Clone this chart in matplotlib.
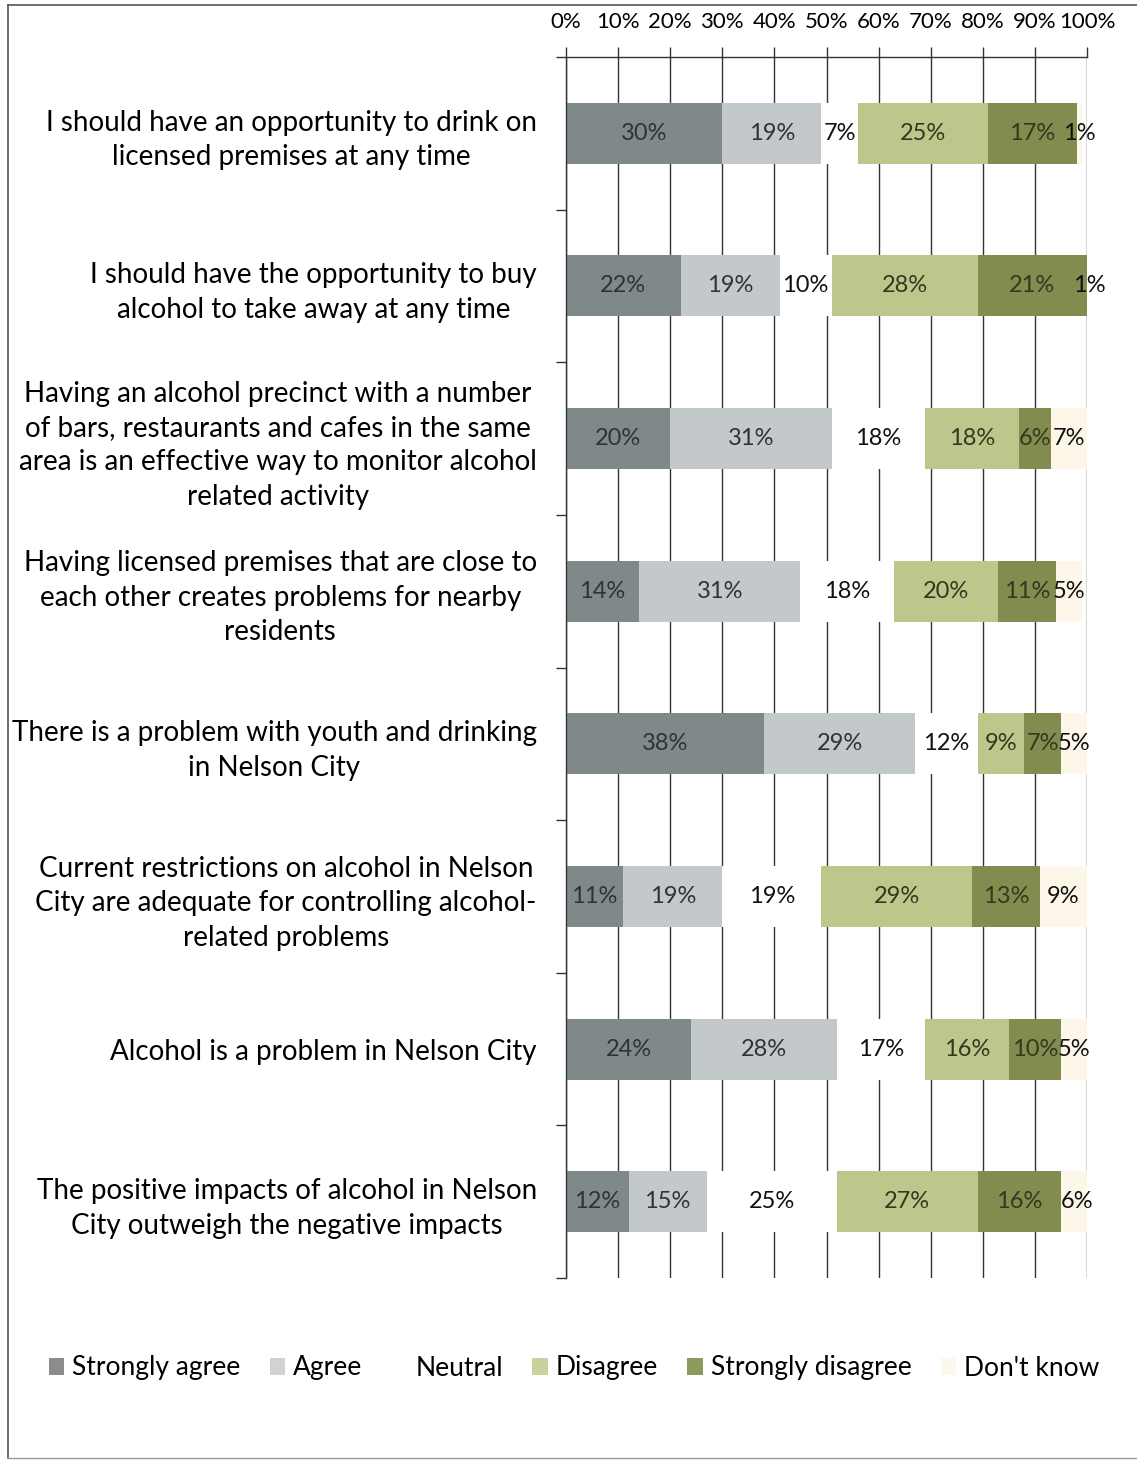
import matplotlib
matplotlib.use("Agg")
import matplotlib.pyplot as plt
from matplotlib.lines import Line2D
from matplotlib.patches import Patch
import numpy as np

plt.rcParams['font.family'] = ['Lato', 'DejaVu Sans']

statements = [
    "I should have an opportunity to drink on\nlicensed premises at any time",
    "I should have the opportunity to buy\nalcohol to take away at any time",
    "Having an alcohol precinct with a number\nof bars, restaurants and cafes in the same\narea is an effective way to monitor alcohol\nrelated activity",
    "Having licensed premises that are close to\neach other creates problems for nearby\nresidents",
    "There is a problem with youth and drinking\nin Nelson City",
    "Current restrictions on alcohol in Nelson\nCity are adequate for controlling alcohol-\nrelated problems",
    "Alcohol is a problem in Nelson City",
    "The positive impacts of alcohol in Nelson\nCity outweigh the negative impacts",
]

strongly_agree    = [30, 22, 20, 14, 38, 11, 24, 12]
agree             = [19, 19, 31, 31, 29, 19, 28, 15]
neutral           = [7, 10, 18, 18, 12, 19, 17, 25]
disagree          = [25, 28, 18, 20, 9, 29, 16, 27]
strongly_disagree = [17, 21, 6, 11, 7, 13, 10, 16]
dont_know         = [1, 1, 7, 5, 5, 9, 5, 6]

series_names = ["Strongly agree", "Agree", "Neutral", "Disagree",
                "Strongly disagree", "Don't know"]
series = [strongly_agree, agree, neutral, disagree, strongly_disagree, dont_know]
colors = ["#80898a", "#c3c8cb", "#ffffff", "#bec68c", "#818c4e", "#fdf7e9"]
legend_colors = ["#8c8c8c", "#d2d2d2", "#ffffff", "#c7d29f", "#8c9a5e", "#fdf8ee"]
text_colors = ["#2e3336", "#2e3336", "#111111", "#33381f", "#33381f", "#111111"]

fig = plt.figure(figsize=(11.37, 14.61), dpi=100)
ax = fig.add_axes([566 / 1137, 1 - 1278 / 1461, 521 / 1137, 1221 / 1461])

y = np.arange(len(statements))
left = np.zeros(len(statements))
for vals, col, tcol in zip(series, colors, text_colors):
    vals = np.array(vals, dtype=float)
    ax.barh(y, vals, left=left, height=0.4, color=col, zorder=2, linewidth=0)
    for yi, l, v in zip(y, left, vals):
        ax.text(l + v / 2, yi, f"{int(v)}%", ha="center", va="center",
                fontsize=17, color=tcol, zorder=3)
    left += vals

ax.set_xlim(0, 100)
ax.set_ylim(7.5, -0.5)
ax.xaxis.tick_top()
ax.set_xticks(np.arange(0, 101, 10))
ax.set_xticklabels([f"{v}%" for v in range(0, 101, 10)], fontsize=16)
ax.tick_params(axis="x", direction="out", length=7, width=1, color="#333333",
               pad=11)
ax.grid(axis="x", color="#333333", linewidth=1, zorder=1)
ax.set_axisbelow(True)

ax.set_yticks(y)
ax.set_yticklabels(statements, fontsize=20, multialignment="center",
                   linespacing=1.4)
ax.tick_params(axis="y", which="major", length=0, pad=21)
ax.set_yticks(np.arange(-0.5, 8.0, 1.0), minor=True)
ax.tick_params(axis="y", which="minor", direction="out", length=7, width=1,
               color="#333333")

for side in ["right", "bottom"]:
    ax.spines[side].set_visible(False)
for side in ["top", "left"]:
    ax.spines[side].set_color("#333333")
    ax.spines[side].set_linewidth(1)

handles = [Patch(facecolor=c, edgecolor="none") for c in legend_colors]
fig.legend(handles, series_names, loc="center", ncol=6, frameon=False,
           bbox_to_anchor=(0.505, 1 - 1368 / 1461), fontsize=19,
           handlelength=0.6, handleheight=0.6, handletextpad=0.3,
           columnspacing=1.1)

# outer frame
fx0, fy0, fy1 = 8 / 1137, 1 - 1458 / 1461, 1 - 5 / 1461
fig.add_artist(Line2D([fx0, 1.0], [fy1, fy1], color="#555555", linewidth=1.2))
fig.add_artist(Line2D([fx0, fx0], [fy0, fy1], color="#555555", linewidth=1.2))
fig.add_artist(Line2D([fx0, 1.0], [fy0, fy0], color="#999999", linewidth=1.0))

fig.savefig("out.png", dpi=100)
